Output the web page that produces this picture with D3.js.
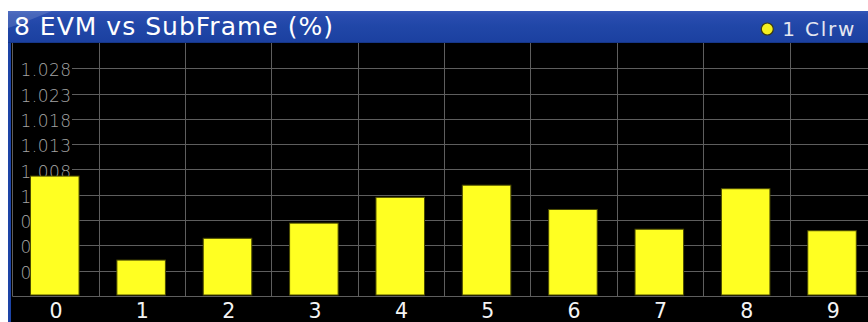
<!DOCTYPE html>
<html>
<head>
<meta charset="utf-8">
<script src="https://cdn.jsdelivr.net/npm/d3@7"></script>
<style>
  html, body { margin: 0; padding: 0; background: #fff; }
  svg { display: block; }
  text { font-family: "DejaVu Sans", Verdana, sans-serif; }
</style>
</head>
<body>
<svg id="chart" width="868" height="322"></svg>
<script>
// EVM per subframe, trace 1 (clear/write)
const subframes = ["0", "1", "2", "3", "4", "5", "6", "7", "8", "9"];
const evmValues = [1.0067, 0.9901, 0.9944, 0.9974, 1.0025, 1.0049, 1.0001, 0.9962, 1.0042, 0.9959];
const yTicks = [1.028, 1.023, 1.018, 1.013, 1.008, 1.003, 0.998, 0.993, 0.988, 0.983];
const yTickLabels = ["1.028", "1.023", "1.018", "1.013", "1.008", "1.003", "0.998", "0.993", "0.988", ""];
const titleText = "8 EVM vs SubFrame (%)";
const traceText = "1 Clrw";

const W = 868, H = 322;
const svg = d3.select("#chart");

const plot = { left: 12.3, right: 875.9, top: 43, bottom: 296 };

const x = d3.scaleBand()
  .domain(subframes)
  .range([plot.left, plot.right])
  .paddingInner(0.438)
  .paddingOuter(0.219);

const y = d3.scaleLinear()
  .domain([0.983, 1.033])
  .range([plot.bottom, plot.top]);

// window frame: blue left strip + black display
svg.append("rect").attr("x", 8).attr("y", 11).attr("width", W - 8).attr("height", H - 11).attr("fill", "#1d44a6");
svg.append("rect").attr("x", 11).attr("y", 43).attr("width", W - 11).attr("height", H - 43).attr("fill", "#000");

// title bar gradient
const defs = svg.append("defs");
const grad = defs.append("linearGradient").attr("id", "titleGrad").attr("x1", 0).attr("y1", 0).attr("x2", 0).attr("y2", 1);
grad.append("stop").attr("offset", "0%").attr("stop-color", "#3558b8");
grad.append("stop").attr("offset", "12%").attr("stop-color", "#2a4db0");
grad.append("stop").attr("offset", "45%").attr("stop-color", "#2147a8");
grad.append("stop").attr("offset", "100%").attr("stop-color", "#1b40a0");
svg.append("rect").attr("x", 8).attr("y", 11).attr("width", W - 8).attr("height", 32).attr("fill", "url(#titleGrad)");
// small gloss at the top-left corner
svg.append("path")
  .attr("d", "M8,11 L52,11 L20,24 L8,28 Z")
  .attr("fill", "#ffffff").attr("opacity", 0.14);
svg.append("line").attr("x1", 8).attr("x2", W).attr("y1", 42.5).attr("y2", 42.5)
  .attr("stroke", "#163688").attr("stroke-width", 1);

svg.append("text")
  .attr("x", 14).attr("y", 35)
  .attr("font-size", 25)
  .attr("fill", "#ffffff")
  .attr("textLength", 319).attr("lengthAdjust", "spacing")
  .text(titleText);

svg.append("circle")
  .attr("cx", 767.3).attr("cy", 29).attr("r", 6)
  .attr("fill", "#f4f020").attr("stroke", "#3a3a10").attr("stroke-width", 1.2);
svg.append("text")
  .attr("x", 782.3).attr("y", 36)
  .attr("font-size", 20)
  .attr("fill", "#e4e6f0")
  .attr("textLength", 72).attr("lengthAdjust", "spacing")
  .text(traceText);

const gridColor = "#5e5e5e";
const g = svg.append("g");

// horizontal grid
g.selectAll("line.h").data(yTicks).join("line")
  .attr("class", "h")
  .attr("x1", plot.left).attr("x2", W)
  .attr("y1", d => Math.round(y(d)) + 0.5).attr("y2", d => Math.round(y(d)) + 0.5)
  .attr("stroke", gridColor).attr("stroke-width", 1);

// vertical grid at subframe boundaries
const bounds = subframes.slice(1).map(s => x(s) - x.step() * x.paddingInner() / 2);
g.selectAll("line.v").data(bounds).join("line")
  .attr("class", "v")
  .attr("x1", d => Math.round(d) + 0.5).attr("x2", d => Math.round(d) + 0.5)
  .attr("y1", plot.top).attr("y2", plot.bottom)
  .attr("stroke", gridColor).attr("stroke-width", 1);
g.append("line")
  .attr("x1", 12.5).attr("x2", 12.5).attr("y1", plot.top).attr("y2", plot.bottom)
  .attr("stroke", gridColor).attr("stroke-width", 1);

// y tick labels on black backing (the backing hides the grid behind the label)
const labels = g.selectAll("g.lab").data(yTicks.map((v, i) => ({ v, t: yTickLabels[i] })).filter(d => d.t)).join("g").attr("class", "lab");
labels.append("rect").attr("fill", "#000");
labels.append("text")
  .attr("x", 20.5).attr("y", d => y(d.v) + 8)
  .attr("font-size", 17)
  .attr("font-weight", 200)
  .attr("fill", "#a4a4a4")
  .attr("textLength", 50.5).attr("lengthAdjust", "spacing")
  .text(d => d.t);
labels.each(function() {
  const t = d3.select(this).select("text").node().getBBox();
  d3.select(this).select("rect")
    .attr("x", 13).attr("y", t.y).attr("width", t.x + t.width + 1 - 13).attr("height", t.height);
});

// bars
g.selectAll("rect.bar").data(evmValues).join("rect")
  .attr("class", "bar")
  .attr("x", (d, i) => x(subframes[i]) - 0.7)
  .attr("width", x.bandwidth())
  .attr("y", d => y(d))
  .attr("height", d => y(0.983) - y(d) - 1)
  .attr("fill", "#ffff22")
  .attr("stroke", "#4a4a00").attr("stroke-width", 1);

// x labels band
svg.append("rect").attr("x", 11).attr("y", 297).attr("width", W - 11).attr("height", H - 297).attr("fill", "#000");
svg.selectAll("text.xl").data(subframes).join("text")
  .attr("class", "xl")
  .attr("x", d => x(d) + x.bandwidth() / 2 + 0.5)
  .attr("y", 317.5)
  .attr("text-anchor", "middle")
  .attr("font-size", 20.5)
  .attr("fill", "#f4f4f4")
  .text(d => d);
</script>
</body>
</html>
